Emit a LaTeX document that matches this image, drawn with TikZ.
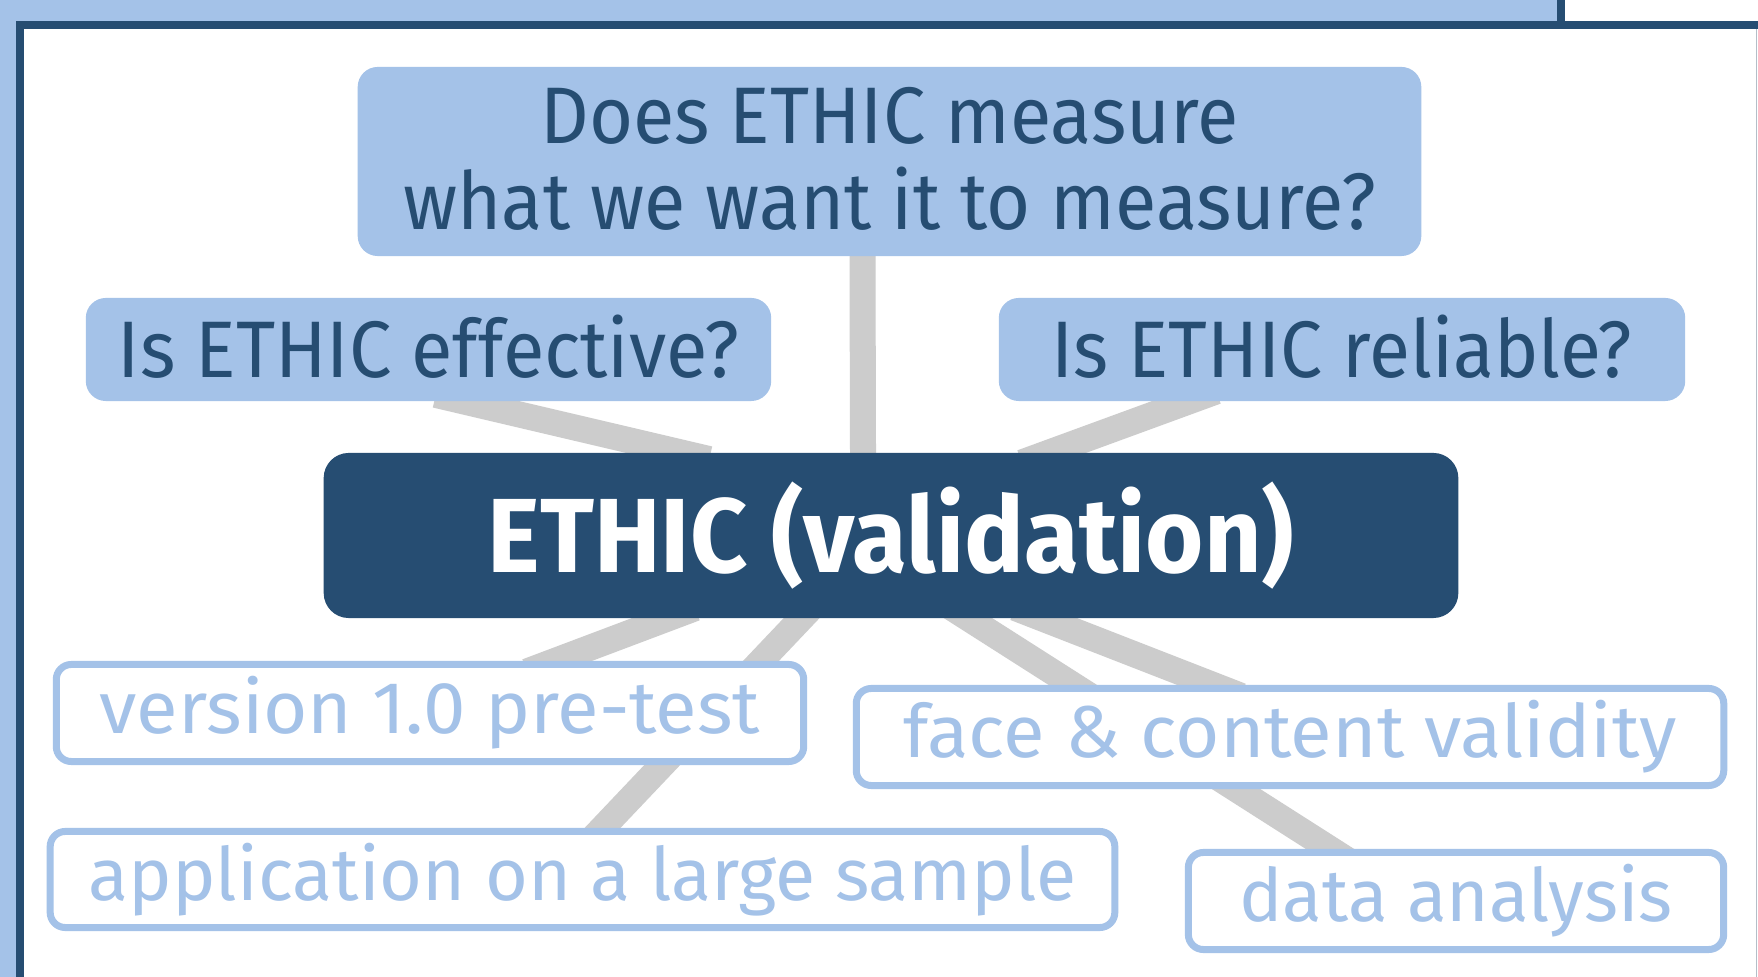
\documentclass[tikz,border=0pt]{standalone}
\usepackage{graphicx}
\usepackage{fontspec}
\setmainfont{Fira Sans}
\usetikzlibrary{calc}
\definecolor{lb}{HTML}{A4C2E8}
\definecolor{db}{HTML}{264D72}
\definecolor{cg}{HTML}{CCCCCC}
\definecolor{fg}{HTML}{B4BEC8}
\newcommand{\sxtext}[3]{\raisebox{#2}[\height][\depth]{\scalebox{#1}[1]{#3}}}
\pgfdeclarelayer{background}
\pgfsetlayers{background,main}
\begin{document}
\begin{tikzpicture}[x=0.01cm,y=-0.01cm,
  conn/.style={draw=cg, line width=0.26cm, shorten <=-0.3cm, shorten >=-0.3cm},
  qbox/.style={fill=lb, text=db, rounded corners=0.2cm, inner sep=0, align=center,
    font=\fontsize{22.8pt}{24.2pt}\selectfont},
  hub/.style={fill=db, text=white, rounded corners=0.25cm, inner sep=0,
    font=\bfseries\fontsize{30pt}{32pt}\selectfont},
  task/.style={draw=lb, line width=0.07cm, fill=white, text=lb, rounded corners=0.15cm,
    inner sep=0, font=\fontsize{20.9pt}{22pt}\selectfont}]
\useasboundingbox (0,0) rectangle (1758,977);
\begin{pgfonlayer}{background}
\fill[white] (0,0) rectangle (1758,977);
\fill[lb] (0,0) rectangle (1557,21);
\fill[lb] (0,0) rectangle (16,977);
\fill[db] (16,21) rectangle (1758,29);
\fill[db] (16,21) rectangle (24,977);
\fill[db] (1557,0) rectangle (1565,21);
\draw[fg, line width=0.015cm] (1756.5,29) -- (1756.5,977);
\end{pgfonlayer}

\node[qbox, minimum width=10.63cm, minimum height=1.89cm] (top) at (889.5,161.5)
  {\sxtext{0.943}{-0.08cm}{\begin{tabular}{@{}c@{}}Does ETHIC measure\\[-0.5pt]what we want it to measure?\end{tabular}}};
\node[qbox, minimum width=6.85cm, minimum height=1.03cm] (eff) at (428.5,349.5)
  {\sxtext{0.945}{0.03cm}{Is ETHIC effective?}};
\node[qbox, minimum width=6.86cm, minimum height=1.03cm] (rel) at (1342,349.5)
  {\sxtext{0.935}{0.03cm}{Is ETHIC reliable?}};
\node[hub, minimum width=11.34cm, minimum height=1.65cm] (hub) at (891,535.5)
  {\sxtext{0.947}{0cm}{ETHIC (validation)}};
\node[task, minimum width=7.47cm, minimum height=0.97cm] (ver) at (430,713)
  {\sxtext{1.035}{0cm}{version 1.0 pre-test}};
\node[task, minimum width=10.64cm, minimum height=0.96cm] (app) at (582.5,879.5)
  {\sxtext{1.0}{0cm}{application on a large sample}};
\node[task, minimum width=8.67cm, minimum height=0.97cm] (face) at (1290,737)
  {\sxtext{1.035}{0cm}{face \& content validity}};
\node[task, minimum width=5.35cm, minimum height=0.97cm] (data) at (1456,901)
  {\sxtext{0.99}{0cm}{data analysis}};

\begin{pgfonlayer}{background}
\draw[conn] ($(top.south)+(-27,0)$) -- ($(hub.north)+(-28,0)$);
\draw[conn] ($(eff.south)+(36.5,0)$) -- ($(hub.north)+(-211,0)$);
\draw[conn] ($(rel.south)+(-154,0)$) -- ($(hub.north)+(159,0)$);
\draw[conn] ($(hub.south)+(-224,0)$) -- ($(ver.north)+(125,0)$);
\draw[conn] ($(hub.south)+(-90,0)$) -- ($(app.north)+(20,0)$);
\draw[conn] ($(hub.south)+(78,0)$) -- ($(data.north)+(-126,0)$);
\draw[conn] ($(hub.south)+(152,0)$) -- ($(face.north)+(-77,0)$);
\end{pgfonlayer}
\end{tikzpicture}
\end{document}
